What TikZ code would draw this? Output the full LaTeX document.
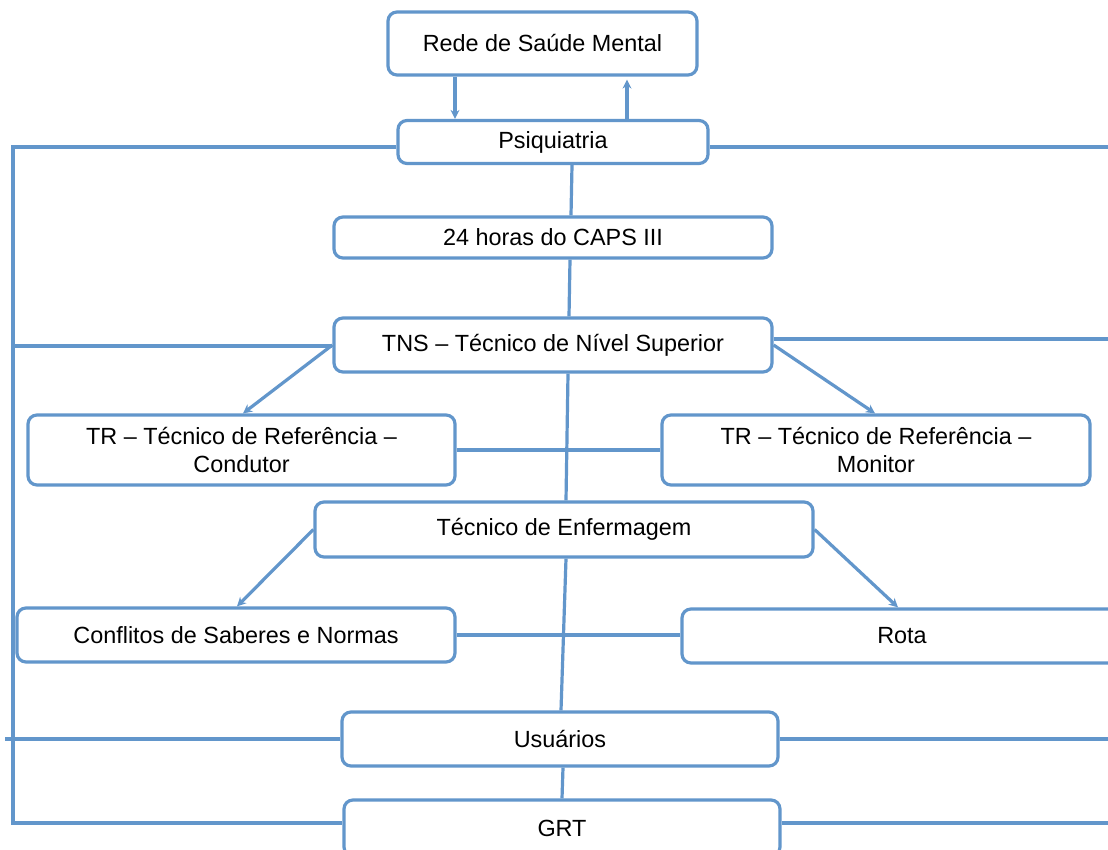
\documentclass[tikz,border=0pt]{standalone}
\usepackage{fontspec}
\setmainfont{Liberation Sans}
\usetikzlibrary{arrows.meta}
\definecolor{lineblue}{RGB}{98,150,203}
\begin{document}
\begin{tikzpicture}[x=1pt,y=-1pt,
  box/.style={draw=lineblue,line width=3.2pt,rounded corners=9pt,fill=white,
    align=center,inner sep=0pt,font=\fontsize{23.4}{28}\selectfont},
  conn/.style={draw=lineblue,line width=3.2pt},
  arr/.style={conn,-{Stealth[length=9pt,width=9pt]}}]
\useasboundingbox (0,0) rectangle (1108,850);
\clip (0,0) rectangle (1108,850);
\fill[white] (0,0) rectangle (1108,850);
% coordinates for free ends
\coordinate (LT) at (13,147);
\coordinate (LB) at (13,823);
\coordinate (LTNS) at (13,346);
\coordinate (LUSU) at (5,739);
\coordinate (RPSI) at (1110,147);
\coordinate (RTNS) at (1110,339);
\coordinate (RUSU) at (1110,739);
\coordinate (RGRT) at (1110,823);
% nodes
\node[box,minimum width=309pt,minimum height=63pt] (rede) at (542.5,43.5) {Rede de Saúde Mental};
\node[box,minimum width=310pt,minimum height=43pt] (psi) at (553,142) {Psiquiatria};
\node[box,minimum width=438pt,minimum height=41pt] (h24) at (553,237.5) {24 horas do CAPS III};
\node[box,minimum width=438pt,minimum height=54pt] (tns) at (553,345) {TNS – Técnico de Nível Superior};
\node[box,minimum width=427pt,minimum height=70pt] (trc) at (241.5,450) {TR – Técnico de Referência –\\Condutor};
\node[box,minimum width=428pt,minimum height=70pt] (trm) at (876,450) {TR – Técnico de Referência –\\Monitor};
\node[box,minimum width=498pt,minimum height=55pt] (enf) at (564,529.5) {Técnico de Enfermagem};
\node[box,minimum width=438pt,minimum height=54pt] (conf) at (236,635) {Conflitos de Saberes e Normas};
\node[box,minimum width=440pt,minimum height=54pt] (rota) at (902,636) {Rota};
\node[box,minimum width=436pt,minimum height=54pt] (usu) at (560,739) {Usuários};
\node[box,minimum width=436pt,minimum height=56pt] (grt) at (562,828) {GRT};
% top arrows
\draw[arr] ([xshift=-87.5pt]rede.south) -- ([xshift=-98pt]psi.north);
\draw[arr] ([xshift=74pt]psi.north) -- ([xshift=84.5pt,yshift=-3pt]rede.south);
% left bracket
\draw[conn] ([yshift=-5pt]psi.west) -- (LT) -- (LB) -- ([yshift=5pt]grt.west);
\draw[conn] ([yshift=-1pt]tns.west) -- (LTNS);
\draw[conn] (usu.west) -- (LUSU);
% right lines
\draw[conn] ([yshift=-5pt]psi.east) -- (RPSI);
\draw[conn] ([yshift=6pt]tns.east) -- (RTNS);
\draw[conn] (usu.east) -- (RUSU);
\draw[conn] ([yshift=5pt]grt.east) -- (RGRT);
% horizontal links
\draw[conn] (trc.east) -- (trm.west);
\draw[conn] (conf.east) -- ([yshift=1pt]rota.west);
% central spine
\draw[conn] ([xshift=19pt]psi.south) -- ([xshift=18pt]h24.north);
\draw[conn] ([xshift=17pt]h24.south) -- ([xshift=16pt]tns.north);
\draw[conn] ([xshift=15pt]tns.south) -- ([xshift=2pt]enf.north);
\draw[conn] ([xshift=2pt]enf.south) -- ([xshift=1pt]usu.north);
\draw[conn] ([xshift=3pt]usu.south) -- (grt.north);
% diagonal arrows
\draw[arr] (tns.west) -- ([xshift=1.5pt]trc.north);
\draw[arr] (tns.east) -- ([xshift=-1pt]trm.north);
\draw[arr] (enf.west) -- ([xshift=1pt]conf.north);
\draw[arr] (enf.east) -- ([xshift=-4pt]rota.north);
\end{tikzpicture}
\end{document}
